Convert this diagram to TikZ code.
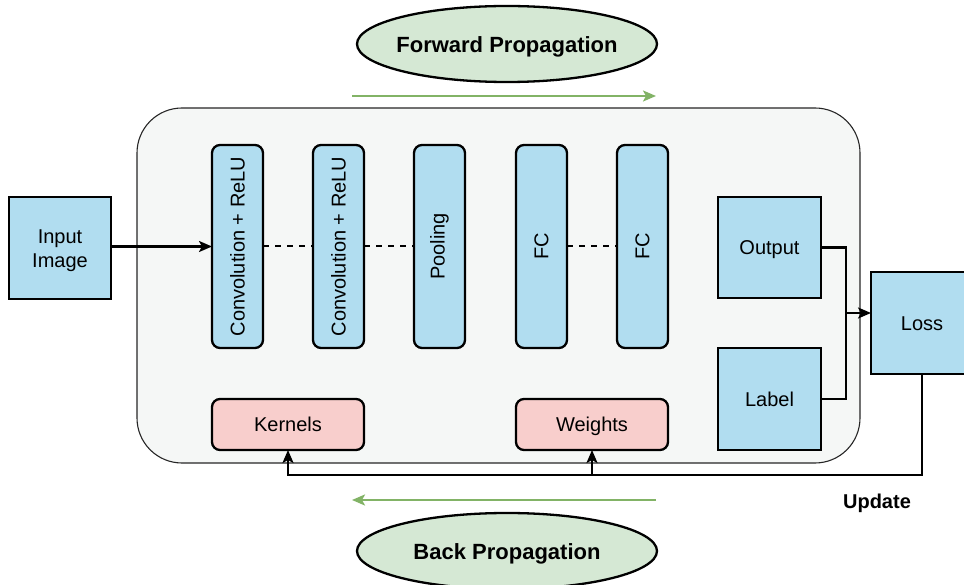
\documentclass[tikz,border=0pt]{standalone}
\usepackage{fontspec}
\setmainfont{Liberation Sans}
\usetikzlibrary{arrows.meta,shapes.geometric}
\definecolor{bluef}{HTML}{B1DDF0}
\definecolor{pinkf}{HTML}{F8CECC}
\definecolor{greenf}{HTML}{D5E8D4}
\definecolor{greenl}{HTML}{82B366}
\definecolor{contf}{HTML}{F5F7F6}
\tikzset{
  base/.style={draw=black,line width=2.3pt,inner sep=0pt,outer sep=0pt,font=\fontsize{20}{24}\selectfont,align=center},
  one/.style={text height=14.4pt,text depth=0pt},
  sqbox/.style={base,fill=bluef,minimum width=102pt,minimum height=102pt},
  layer/.style={base,fill=bluef,rounded corners=8pt,minimum width=51pt,minimum height=203pt},
  param/.style={base,one,fill=pinkf,rounded corners=8pt,minimum width=152pt,minimum height=51pt},
  prop/.style={draw=black,line width=2.3pt,fill=greenf,ellipse,inner sep=0pt,minimum width=300pt,minimum height=76pt},
  proptext/.style={font=\fontsize{22}{26}\selectfont\bfseries,inner sep=0pt,yshift=-2.5pt},
  arr/.style={draw=black,line width=2.2pt,-{Stealth[length=13pt,width=11pt,inset=3pt]}},
  conn/.style={draw=black,line width=2.2pt},
  dashline/.style={draw=black,line width=2pt,dash pattern=on 6pt off 6pt},
  garr/.style={draw=greenl,line width=2.3pt,-{Stealth[length=13pt,width=11pt,inset=3pt]}}
}
\begin{document}
\begin{tikzpicture}[x=1pt,y=-1pt]
\useasboundingbox (0,0) rectangle (964,585);
% container
\node[draw=black!85,line width=1.1pt,fill=contf,rounded corners=45pt,minimum width=723pt,minimum height=355pt,inner sep=0pt] (cont) at (498.5,285.5) {};
% nodes
\node[sqbox] (input) at (60,248) {};
\node[font=\fontsize{20}{24}\selectfont,align=center,inner sep=0pt,yshift=-2.5pt] (inputtext) at (input) {Input\\Image};
\node[layer] (conv1) at (237.5,246.5) {\rotatebox{90}{Convolution + ReLU}};
\node[layer] (conv2) at (338.5,246.5) {\rotatebox{90}{Convolution + ReLU}};
\node[layer] (pool) at (439.5,246.5) {\rotatebox{90}{Pooling}};
\node[layer] (fc1) at (541.5,246.5) {\rotatebox{90}{FC}};
\node[layer] (fc2) at (642.5,246.5) {\rotatebox{90}{FC}};
\node[sqbox,one,minimum width=103pt,minimum height=101pt] (output) at (769.5,247.5) {Output};
\node[sqbox,one,minimum width=103pt] (label) at (769.5,399) {Label};
\node[sqbox,one] (loss) at (922,323) {Loss};
\node[param] (kernels) at (288,424.5) {Kernels};
\node[param] (weights) at (592,424.5) {Weights};
\node[prop] (fwd) at (507,44) {};
\node[proptext] (fwdtext) at (fwd) {Forward Propagation};
\node[prop] (back) at (507,551) {};
\node[proptext] (backtext) at (back) {Back Propagation};
\node[font=\fontsize{20}{24}\selectfont\bfseries] (upd) at (877,503) {Update};
% coordinates
\coordinate (jn) at (846,313);
\coordinate (ub) at (0,475);
\coordinate (fa) at (352,96);
\coordinate (fb) at (656,96);
\coordinate (ba) at (656,500);
\coordinate (bb) at (352,500);
% connectors
\draw[arr] (input.east |- conv1.west) -- (conv1.west);
\draw[dashline] (conv1.east) -- (conv2.west);
\draw[dashline] (conv2.east) -- (pool.west);
\draw[dashline] (fc1.east) -- (fc2.west);
\draw[conn] (output.east) -| (jn);
\draw[conn] (label.east) -| (jn);
\draw[arr] (jn) -- (loss.west |- jn);
\draw[arr] (loss.south) |- (kernels.south |- ub) -- (kernels.south);
\draw[arr] (weights.south |- ub) -- (weights.south);
\draw[garr] (fa) -- (fb);
\draw[garr] (ba) -- (bb);
\end{tikzpicture}
\end{document}
